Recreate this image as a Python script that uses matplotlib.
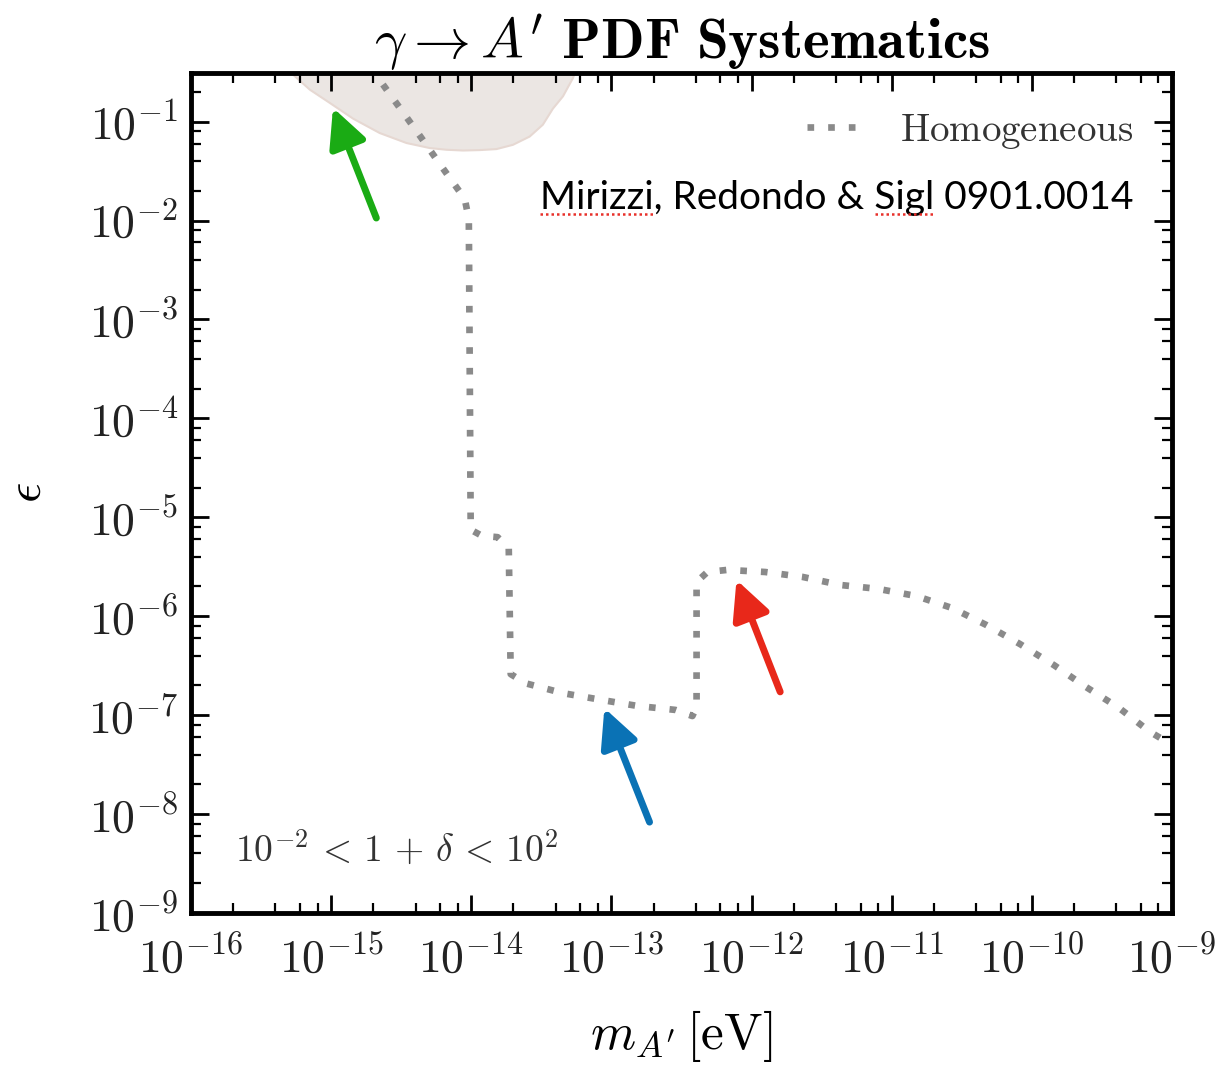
import numpy as np
import matplotlib.pyplot as plt
from matplotlib.ticker import LogLocator, NullFormatter, FuncFormatter

plt.rcParams.update({
    "mathtext.fontset": "cm",
    "font.family": "serif",
    "font.serif": ["DejaVu Serif"],
})

# homogeneous-plasma limit (dotted curve)
m_hom = [1.92e-15, 2.84e-15, 4.15e-15, 6.15e-15, 8.97e-15, 9.6e-15, 9.9e-15,
         1.19e-14, 1.54e-14, 1.85e-14, 1.91e-14, 2.44e-14, 4.5e-14, 8.4e-14,
         1.53e-13, 2.86e-13, 3.78e-13, 4.05e-13, 4.05e-13, 4.84e-13, 6.7e-13,
         1.25e-12, 2.3e-12, 4.3e-12, 8.0e-12, 1.5e-11, 2.7e-11, 4.7e-11,
         8.2e-11, 1.44e-10, 2.43e-10, 4.2e-10, 6.95e-10, 1.0e-9]
eps_hom = [0.35, 0.162, 0.077, 0.035, 0.0166, 0.0104, 7.5e-6,
           6.5e-6, 6.3e-6, 4.9e-6, 2.6e-7, 2.1e-7, 1.67e-7, 1.43e-7,
           1.24e-7, 1.13e-7, 9.8e-8, 1.21e-7, 2.22e-6, 2.8e-6, 2.94e-6,
           2.8e-6, 2.5e-6, 2.07e-6, 1.89e-6, 1.6e-6, 1.21e-6, 8.2e-7,
           5.25e-7, 3.2e-7, 1.93e-7, 1.18e-7, 6.8e-8, 5.0e-8]

# shaded excluded region in the upper left
m_excl = [4.8e-16, 5.36e-16, 7.05e-16, 9.8e-16, 1.435e-15, 2.22e-15, 3.45e-15,
          5.05e-15, 6.65e-15, 8.73e-15, 1.15e-14, 1.51e-14, 1.98e-14, 2.61e-14,
          3.24e-14, 3.82e-14, 4.51e-14, 5.31e-14, 5.9e-14]
eps_excl = [0.4, 0.297, 0.21, 0.154, 0.107, 0.0766, 0.0607,
            0.054, 0.0519, 0.051, 0.0515, 0.0527, 0.0582, 0.0706,
            0.093, 0.135, 0.18, 0.275, 0.4]

# arrows: (tail, tip, colour)
arrows = [
    ((2.1e-15, 1.06e-2), (1.03e-15, 0.138), "#1aab14"),
    ((1.87e-13, 8.3e-9), (8.9e-14, 1.18e-7), "#0a72b5"),
    ((1.6e-12, 1.72e-7), (7.8e-13, 2.33e-6), "#e8281a"),
]

fig = plt.figure(figsize=(12.23, 10.70), dpi=100)
ax = fig.add_axes([0.1562, 0.1467, 0.8021, 0.7851])

ax.fill(m_excl, eps_excl, facecolor="#ebe6e3", edgecolor="#e6d8d2", lw=1.5, zorder=1)
ax.plot(m_hom, eps_hom, color="#8a8a8a", lw=4.8, dashes=(1, 2.1),
        label=r"$\mathrm{Homogeneous}$", zorder=2)

for tail, tip, c in arrows:
    ax.annotate("", xy=tip, xytext=tail,
                arrowprops=dict(arrowstyle="-|>,head_length=0.65,head_width=0.32",
                                mutation_scale=36, lw=5, color=c,
                                shrinkA=0, shrinkB=0, capstyle="round"),
                zorder=5)

ax.set_xscale("log")
ax.set_yscale("log")
ax.set_xlim(1e-16, 1e-9)
ax.set_ylim(1e-9, 0.31)

decade_fmt = FuncFormatter(lambda v, _: r"$10^{%d}$" % round(np.log10(v)))
for axis in (ax.xaxis, ax.yaxis):
    axis.set_major_locator(LogLocator(base=10, numticks=20))
    axis.set_minor_locator(LogLocator(base=10, subs=[2, 4, 6, 8], numticks=20))
    axis.set_major_formatter(decade_fmt)
    axis.set_minor_formatter(NullFormatter())

ax.tick_params(which="both", direction="in", top=True, right=True, labelsize=33,
               labelcolor="#222222")
ax.tick_params(which="major", length=13, width=2)
ax.tick_params(which="minor", length=7, width=1.6)
ax.tick_params(axis="x", pad=17)
ax.tick_params(axis="y", pad=9)
for s in ax.spines.values():
    s.set_linewidth(3.5)

ax.set_title(r"$\gamma \rightarrow A^{\prime}\ \mathbf{PDF\ Systematics}$", fontsize=41, pad=2)
ax.set_xlabel(r"$m_{A^{\prime}}\,[\mathrm{eV}]$", fontsize=37, labelpad=18)
ax.set_ylabel(r"$\epsilon$", fontsize=36, labelpad=26)

ax.text(0.045, 0.062, r"$10^{-2} \,<\, 1 \,+\, \delta \,<\, 10^{2}$", transform=ax.transAxes,
        fontsize=27, color="#333333")

ax.legend(loc="upper right", frameon=False, fontsize=28, handlelength=1.3,
          handletextpad=1.1, borderaxespad=0.6, labelcolor="#333333")

# citation with spell-check style underlines
cite_str = "Mirizzi, Redondo & Sigl 0901.0014"
cite_size = 28
cx, cy = 0.356, 0.838
ax.text(cx, cy, cite_str, transform=ax.transAxes, fontsize=cite_size,
        family="Lato", va="baseline", color="black")
fig.canvas.draw()
renderer = fig.canvas.get_renderer()


def text_width(s):
    t = ax.text(cx, cy, s, transform=ax.transAxes, fontsize=cite_size, family="Lato",
                va="baseline")
    w = t.get_window_extent(renderer).width
    t.remove()
    return w


x0_px, y0_px = ax.transAxes.transform((cx, cy))
for start, word in [("", "Mirizzi"), ("Mirizzi, Redondo & ", "Sigl")]:
    a = x0_px + (text_width(start) if start else 0)
    b = a + text_width(word)
    p0 = ax.transAxes.inverted().transform((a, y0_px - 5))
    p1 = ax.transAxes.inverted().transform((b, y0_px - 5))
    ax.plot([p0[0], p1[0]], [p0[1], p1[1]], transform=ax.transAxes,
            color="#e8302a", lw=1.8, dashes=(1, 1.2), zorder=6)

fig.savefig("out.png", dpi=100)
